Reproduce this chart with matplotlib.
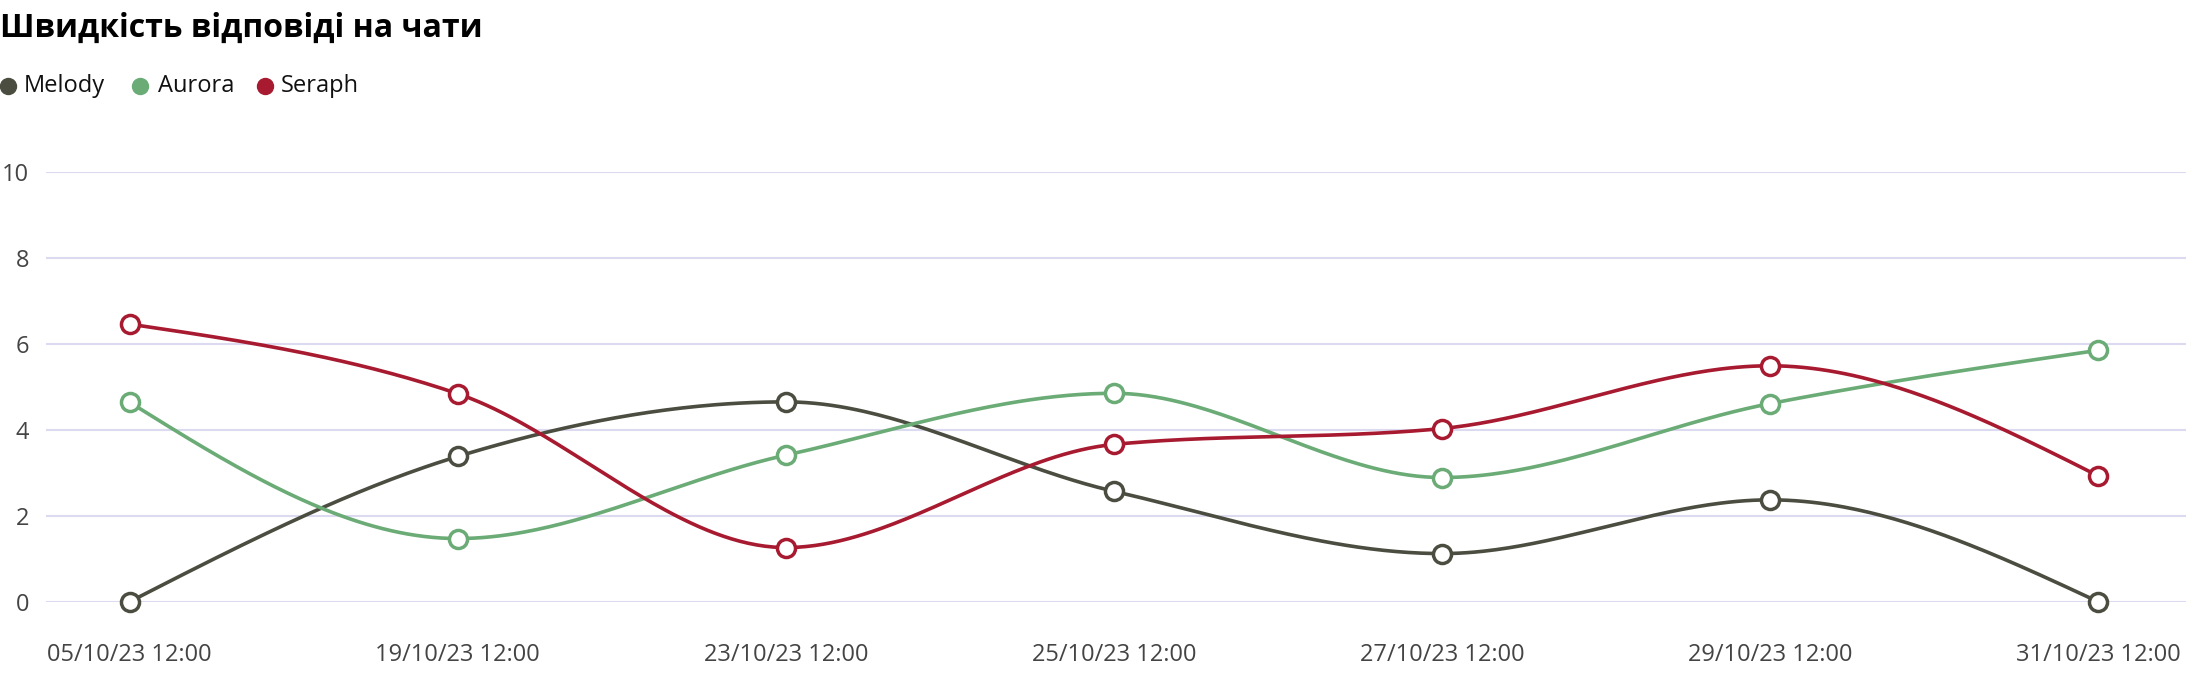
import numpy as np
import matplotlib
matplotlib.use("Agg")
import matplotlib.pyplot as plt
from matplotlib.lines import Line2D

# ---------------- data ----------------
title = "Швидкість відповіді на чати"
categories = ["05/10/23 12:00", "19/10/23 12:00", "23/10/23 12:00", "25/10/23 12:00",
              "27/10/23 12:00", "29/10/23 12:00", "31/10/23 12:00"]
series_names = ["Melody", "Aurora", "Seraph"]
melody = [0.0, 3.38, 4.65, 2.57, 1.12, 2.37, 0.0]
aurora = [4.64, 1.47, 3.41, 4.85, 2.89, 4.61, 5.85]
seraph = [6.46, 4.84, 1.26, 3.66, 4.03, 5.49, 2.93]
y_ticks = [0, 2, 4, 6, 8, 10]

colors = ["#4b4d40", "#6aab76", "#a71a30"]
FONT = "Open Sans"


def monotone_curve(x, y, n=80):
    """Monotone cubic (d3.curveMonotoneX style) interpolation."""
    x = np.asarray(x, float)
    y = np.asarray(y, float)
    h = np.diff(x)
    s = np.diff(y) / h
    m = np.zeros_like(y)
    for i in range(1, len(y) - 1):
        s0, s1 = s[i - 1], s[i]
        p = (s0 * h[i] + s1 * h[i - 1]) / (h[i - 1] + h[i])
        m[i] = (np.sign(s0) + np.sign(s1)) * min(abs(s0), abs(s1), 0.5 * abs(p))
    m[0] = (3 * s[0] - m[1]) / 2
    m[-1] = (3 * s[-1] - m[-2]) / 2
    xs, ys = [], []
    for i in range(len(x) - 1):
        t = np.linspace(0, 1, n)
        h00 = 2 * t**3 - 3 * t**2 + 1
        h10 = t**3 - 2 * t**2 + t
        h01 = -2 * t**3 + 3 * t**2
        h11 = t**3 - t**2
        xs.append(x[i] + t * h[i])
        ys.append(h00 * y[i] + h10 * h[i] * m[i] + h01 * y[i + 1] + h11 * h[i] * m[i + 1])
    return np.concatenate(xs), np.concatenate(ys)


W, H = 2186, 674
fig = plt.figure(figsize=(W / 100, H / 100), dpi=100)
ax = fig.add_axes([46 / W, (H - 601.7) / H, 1 - 46 / W, (601.7 - 172) / H])

xpos = np.arange(len(categories))
for name, vals, col in zip(series_names, [melody, aurora, seraph], colors):
    cx, cy = monotone_curve(xpos, vals)
    ax.plot(cx, cy, color=col, lw=2.6, clip_on=False, zorder=3, solid_capstyle="round")
    ax.plot(xpos, vals, linestyle="none", marker="o", ms=13, mew=2.5,
            mec=col, mfc="white", clip_on=False, zorder=4)

ax.set_xlim(-0.2551, 6.268)
ax.set_ylim(0, 10)
ax.set_yticks(y_ticks)
ax.set_xticks(xpos)
ax.set_xticklabels(categories)
ax.grid(axis="y", color="#dcdaf0", lw=1.5)
ax.grid(axis="x", visible=False)
ax.set_axisbelow(True)
for sp in ax.spines.values():
    sp.set_visible(False)
ax.tick_params(axis="both", length=0, labelcolor="#444444", labelsize=17)
ax.tick_params(axis="y", pad=12)
ax.tick_params(axis="x", pad=30)
for lab in ax.get_xticklabels() + ax.get_yticklabels():
    lab.set_fontfamily(FONT)

# title
fig.text(0, 1 - 28 / H, title, fontsize=23, fontweight="bold", fontfamily=FONT,
         color="#000000", va="center", ha="left")

# legend
leg_y = 1 - 86 / H
dot_x = [8, 139.5, 265]
txt_x = [24, 157.6, 281]
for name, col, dx, tx in zip(series_names, colors, dot_x, txt_x):
    fig.add_artist(Line2D([dx / W], [leg_y], marker="o", ms=11.5, color=col,
                          transform=fig.transFigure, linestyle="none"))
    fig.text(tx / W, leg_y, name, fontsize=17, fontfamily=FONT, color="#111111",
             va="center", ha="left")

fig.savefig("out.png", dpi=100)
